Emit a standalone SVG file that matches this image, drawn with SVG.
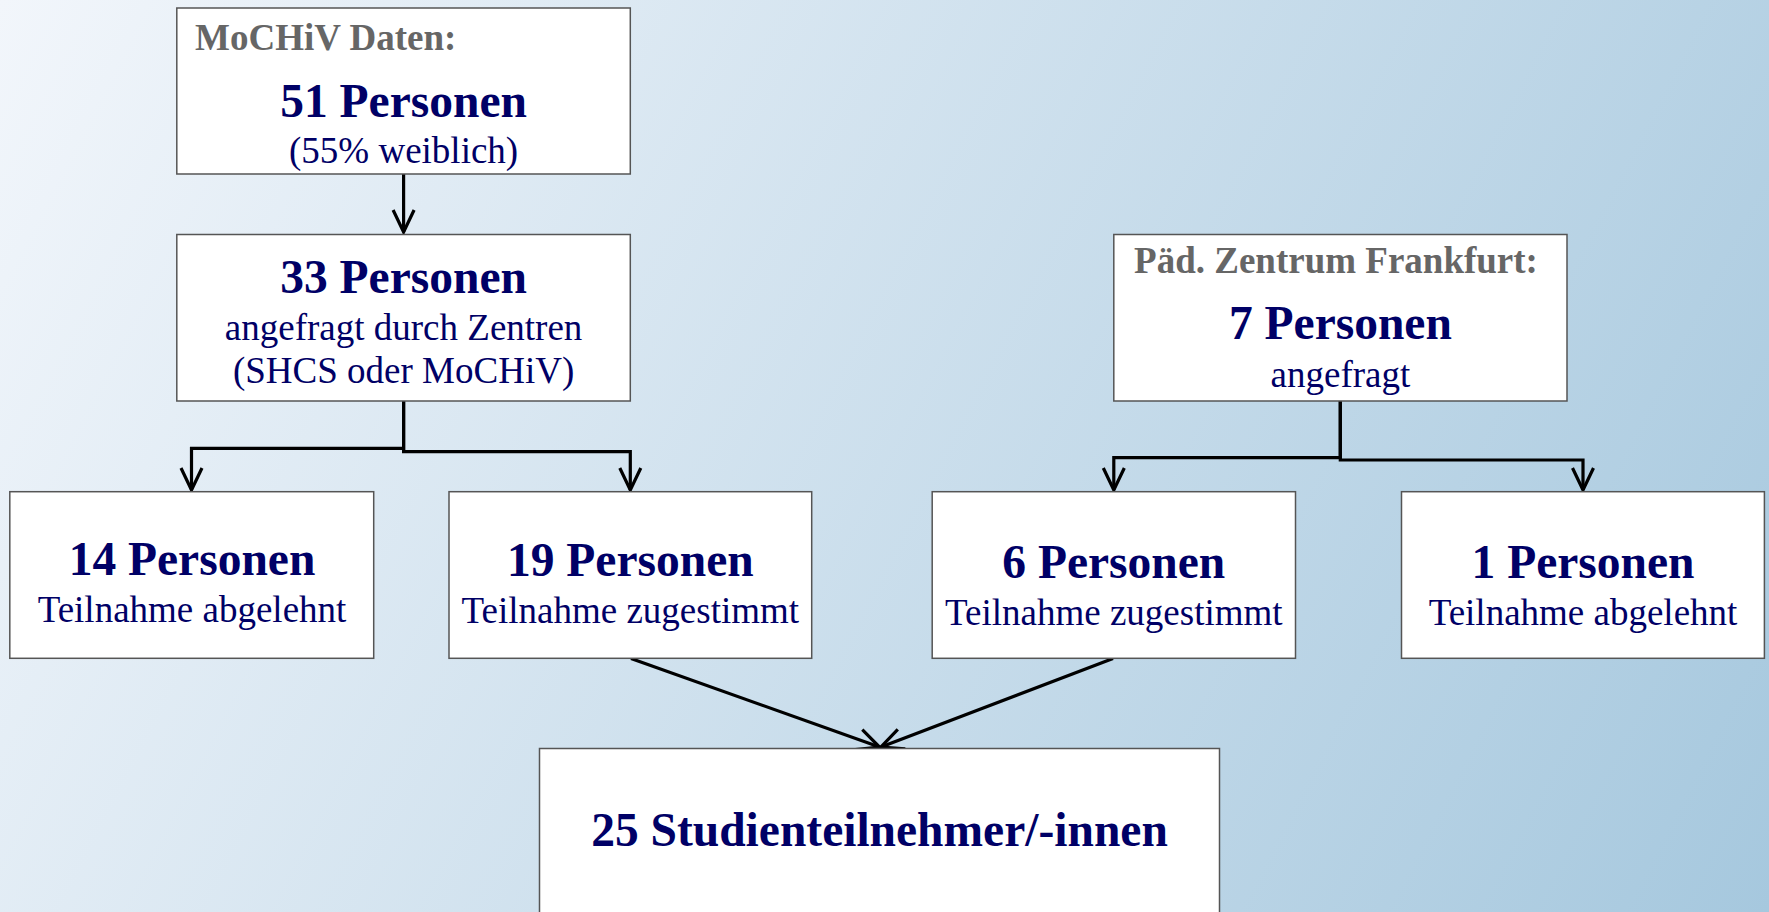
<svg xmlns="http://www.w3.org/2000/svg" width="1769" height="912" viewBox="0 0 1769 912">
<defs>
<linearGradient id="bg" gradientUnits="userSpaceOnUse" x1="0" y1="0" x2="1769" y2="912">
<stop offset="0" stop-color="#f2f6fb"/>
<stop offset="1" stop-color="#a6c8de"/>
</linearGradient>
<marker id="arr" markerUnits="userSpaceOnUse" markerWidth="30" markerHeight="30" viewBox="-25 -15 30 30" refX="0" refY="0" orient="auto">
<path d="M-22,-10.5 L0,0 L-22,10.5" fill="none" stroke="#000" stroke-width="3.2"/>
</marker>
<style>
.box{fill:#fff;stroke:#555;stroke-width:1.5}
.big{font-family:"Liberation Serif","Times New Roman",serif;font-weight:bold;font-size:47.5px;fill:#000066;text-anchor:middle}
.sub{font-family:"Liberation Serif","Times New Roman",serif;font-size:37px;fill:#000066;text-anchor:middle}
.hdr{font-family:"Liberation Serif","Times New Roman",serif;font-weight:bold;font-size:37px;fill:#666}
.con{fill:none;stroke:#000;stroke-width:3.2}
</style>
</defs>
<rect width="1769" height="912" fill="url(#bg)"/>
<g id="connectors">
<path class="con" d="M403.6,174 V232" marker-end="url(#arr)"/>
<path class="con" d="M403.6,401 V448.3 H191.5 V490" marker-end="url(#arr)"/>
<path class="con" d="M403.6,401 V451.7 H630.3 V490" marker-end="url(#arr)"/>
<path class="con" d="M1340.3,401 V457.7 H1113.8 V490" marker-end="url(#arr)"/>
<path class="con" d="M1340.3,401 V460 H1583 V490" marker-end="url(#arr)"/>
<path class="con" d="M631,658.5 L879.5,747" marker-end="url(#arr)"/>
<path class="con" d="M1113,658.5 L881,747" marker-end="url(#arr)"/>
</g>
<g id="n51">
<rect class="box" x="176.8" y="8" width="453.5" height="166"/>
<text class="hdr" x="195" y="50">MoCHiV Daten:</text>
<text class="big" x="403.6" y="117">51 Personen</text>
<text class="sub" x="403.6" y="163">(55% weiblich)</text>
</g>
<g id="n33">
<rect class="box" x="176.8" y="234.5" width="453.5" height="166.5"/>
<text class="big" x="403.6" y="293">33 Personen</text>
<text class="sub" x="403.6" y="340">angefragt durch Zentren</text>
<text class="sub" x="403.6" y="383">(SHCS oder MoCHiV)</text>
</g>
<g id="n7">
<rect class="box" x="1113.8" y="234.5" width="453.2" height="166.5"/>
<text class="hdr" x="1336" y="273" text-anchor="middle">Päd. Zentrum Frankfurt:</text>
<text class="big" x="1340.4" y="339">7 Personen</text>
<text class="sub" x="1340.4" y="387">angefragt</text>
</g>
<g id="n14">
<rect class="box" x="9.8" y="491.7" width="363.9" height="166.6"/>
<text class="big" x="192" y="574.5">14 Personen</text>
<text class="sub" x="192" y="622">Teilnahme abgelehnt</text>
</g>
<g id="n19">
<rect class="box" x="449" y="491.7" width="362.7" height="166.6"/>
<text class="big" x="630.3" y="576">19 Personen</text>
<text class="sub" x="630.3" y="623">Teilnahme zugestimmt</text>
</g>
<g id="n6">
<rect class="box" x="932.2" y="491.7" width="363.3" height="166.6"/>
<text class="big" x="1113.8" y="578">6 Personen</text>
<text class="sub" x="1113.8" y="625">Teilnahme zugestimmt</text>
</g>
<g id="n1">
<rect class="box" x="1401.5" y="491.7" width="362.9" height="166.6"/>
<text class="big" x="1583" y="578">1 Personen</text>
<text class="sub" x="1583" y="625">Teilnahme abgelehnt</text>
</g>
<g id="n25">
<rect class="box" x="539.5" y="748.5" width="680" height="200"/>
<text class="big" x="879.5" y="846">25 Studienteilnehmer/-innen</text>
</g>
</svg>
